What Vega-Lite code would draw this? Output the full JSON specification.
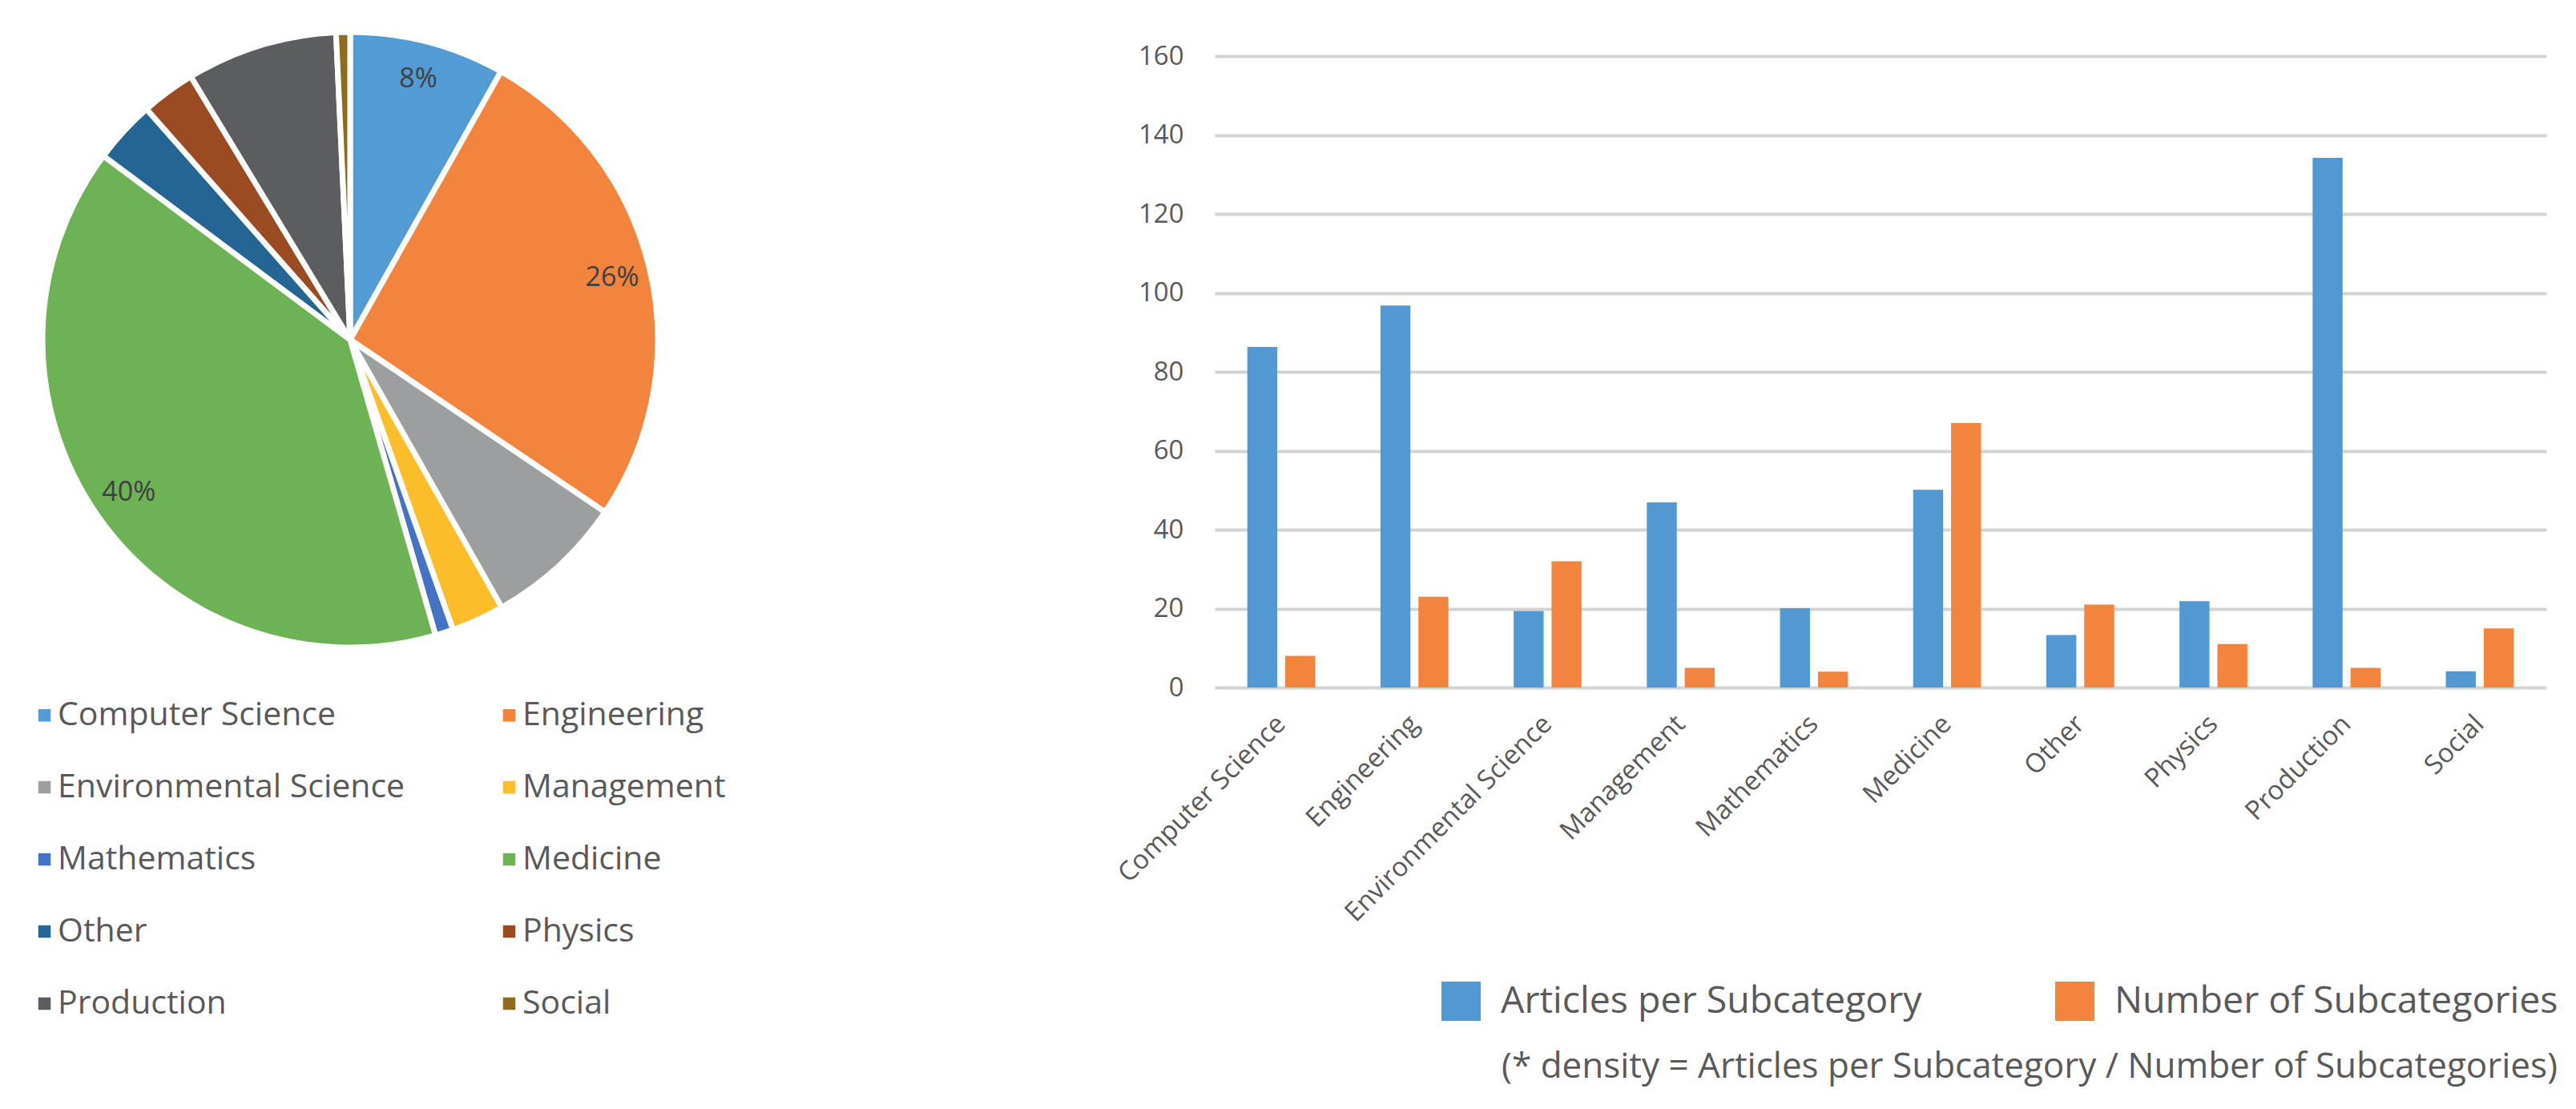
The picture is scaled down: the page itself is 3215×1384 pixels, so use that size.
{
  "$schema": "https://vega.github.io/schema/vega-lite/v6.json",
  "padding": {"left": 0, "top": 26, "right": 0, "bottom": 20},
  "bounds": "flush",
  "spacing": 642,
  "resolve": {"scale": {"color": "independent"}, "legend": {"color": "independent"}},
  "hconcat": [
    {
      "width": 874,
      "height": 708,
      "data": {
        "values": [
          {"field": "Computer Science", "articles": 690, "label": "8%"},
          {"field": "Engineering", "articles": 2226, "label": "26%"},
          {"field": "Environmental Science", "articles": 621, "label": ""},
          {"field": "Management", "articles": 235, "label": ""},
          {"field": "Mathematics", "articles": 80, "label": ""},
          {"field": "Medicine", "articles": 3357, "label": "40%"},
          {"field": "Other", "articles": 279, "label": ""},
          {"field": "Physics", "articles": 241, "label": ""},
          {"field": "Production", "articles": 671, "label": ""},
          {"field": "Social", "articles": 62, "label": ""}
        ]
      },
      "encoding": {
        "theta": {"field": "articles", "type": "quantitative", "stack": true},
        "order": {"field": "field", "type": "ordinal", "sort": "ascending"},
        "color": {
          "field": "field",
          "type": "nominal",
          "scale": {
            "domain": ["Computer Science", "Engineering", "Environmental Science", "Management", "Mathematics", "Medicine", "Other", "Physics", "Production", "Social"],
            "range": ["#529BD5", "#F2843D", "#9C9FA0", "#FBBE2A", "#4472C4", "#6DB356", "#256594", "#9A4B22", "#5C5D60", "#8E6C1F"]
          },
          "legend": {
            "orient": "none",
            "legendX": 35,
            "legendY": 802,
            "direction": "horizontal",
            "columns": 2,
            "title": null,
            "symbolType": "square",
            "symbolSize": 240,
            "symbolStrokeWidth": 0,
            "labelFontSize": 41,
            "labelColor": "#595959",
            "labelOffset": -4,
            "rowPadding": 48,
            "columnPadding": 109,
            "labelLimit": 800
          }
        }
      },
      "layer": [
        {"mark": {"type": "arc", "radius": 384, "stroke": "white", "strokeWidth": 7}},
        {
          "mark": {"type": "text", "radius": 336, "fontSize": 34},
          "encoding": {
            "text": {"field": "label"},
            "detail": {"field": "field"},
            "color": {"value": "#404040"}
          }
        }
      ]
    },
    {
      "width": 1662,
      "height": 788,
      "data": {
        "values": [
          {"field": "Computer Science", "series": "Articles per Subcategory", "value": 86.3},
          {"field": "Computer Science", "series": "Number of Subcategories", "value": 8},
          {"field": "Engineering", "series": "Articles per Subcategory", "value": 96.8},
          {"field": "Engineering", "series": "Number of Subcategories", "value": 23},
          {"field": "Environmental Science", "series": "Articles per Subcategory", "value": 19.4},
          {"field": "Environmental Science", "series": "Number of Subcategories", "value": 32},
          {"field": "Management", "series": "Articles per Subcategory", "value": 46.9},
          {"field": "Management", "series": "Number of Subcategories", "value": 5},
          {"field": "Mathematics", "series": "Articles per Subcategory", "value": 20.1},
          {"field": "Mathematics", "series": "Number of Subcategories", "value": 4},
          {"field": "Medicine", "series": "Articles per Subcategory", "value": 50.1},
          {"field": "Medicine", "series": "Number of Subcategories", "value": 67},
          {"field": "Other", "series": "Articles per Subcategory", "value": 13.3},
          {"field": "Other", "series": "Number of Subcategories", "value": 21},
          {"field": "Physics", "series": "Articles per Subcategory", "value": 21.9},
          {"field": "Physics", "series": "Number of Subcategories", "value": 11},
          {"field": "Production", "series": "Articles per Subcategory", "value": 134.2},
          {"field": "Production", "series": "Number of Subcategories", "value": 5},
          {"field": "Social", "series": "Articles per Subcategory", "value": 4.1},
          {"field": "Social", "series": "Number of Subcategories", "value": 15}
        ]
      },
      "mark": {"type": "bar"},
      "encoding": {
        "x": {
          "field": "field",
          "type": "nominal",
          "sort": null,
          "title": null,
          "scale": {"paddingInner": 0.49, "paddingOuter": 0.245},
          "axis": {
            "labelAngle": -45,
            "labelFontSize": 33,
            "labelColor": "#595959",
            "labelPadding": 40,
            "labelBaseline": "middle",
            "labelLimit": 1000,
            "domain": false,
            "ticks": false,
            "grid": false
          }
        },
        "xOffset": {
          "field": "series",
          "type": "nominal",
          "sort": null,
          "scale": {"paddingInner": 0.21, "paddingOuter": 0}
        },
        "y": {
          "field": "value",
          "type": "quantitative",
          "scale": {"domain": [0, 160]},
          "axis": {
            "title": null,
            "values": [0, 20, 40, 60, 80, 100, 120, 140, 160],
            "domain": false,
            "ticks": false,
            "gridColor": "#D3D3D3",
            "gridWidth": 4,
            "labelFontSize": 33,
            "labelColor": "#595959",
            "labelPadding": 39
          }
        },
        "color": {
          "field": "series",
          "type": "nominal",
          "sort": null,
          "scale": {
            "domain": ["Articles per Subcategory", "Number of Subcategories"],
            "range": ["#5299D3", "#F2843D"]
          },
          "legend": {
            "orient": "none",
            "legendX": 283,
            "legendY": 1155,
            "direction": "horizontal",
            "title": "(* density = Articles per Subcategory / Number of Subcategories)",
            "titleOrient": "bottom",
            "titleAnchor": "end",
            "titleFontSize": 44,
            "titleFontWeight": "normal",
            "titleColor": "#595959",
            "titlePadding": 36,
            "titleLimit": 3000,
            "symbolType": "square",
            "symbolSize": 2400,
            "symbolStrokeWidth": 0,
            "labelFontSize": 46.5,
            "labelColor": "#595959",
            "labelOffset": 25,
            "columnPadding": 166,
            "labelLimit": 1000
          }
        }
      }
    }
  ],
  "config": {
    "font": "Open Sans",
    "view": {"stroke": null},
    "axis": {"labelFont": "Open Sans"},
    "legend": {"labelFont": "Open Sans", "titleFont": "Open Sans"},
    "text": {"font": "Open Sans"}
  }
}
